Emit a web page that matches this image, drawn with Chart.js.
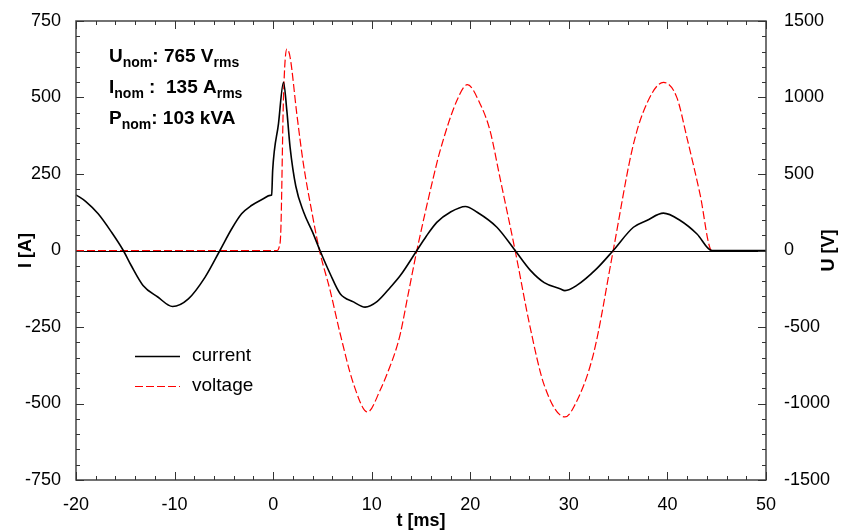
<!DOCTYPE html>
<html>
<head>
<meta charset="utf-8">
<script src="https://cdn.jsdelivr.net/npm/chart.js@4/dist/chart.umd.min.js"></script>
<style>
  html, body { margin: 0; padding: 0; background: #fff; }
  canvas { display: block; }
</style>
</head>
<body>
<canvas id="chart" width="841" height="532"></canvas>
<script>
// current [A] vs time [ms]
const currentTime = [-20, -19, -17.75, -16.4, -15.2, -14.4, -13.2, -11.7, -10.2, -8.6, -6.9, -5.4, -4.2, -3.2, -2.2, -1.0, -0.3, -0.15, -0.05, 0.54, 1.05, 1.39, 1.72, 2.3, 3.1, 4.0, 4.75, 5.78, 6.8, 8.15, 9.33, 10.5, 11.9, 12.9, 14.58, 15.5, 16.6, 17.96, 19.5, 20.7, 22.7, 24.55, 26.1, 27.5, 29.1, 29.6, 30.8, 32.8, 34.5, 36.55, 37.9, 39.6, 41.3, 43.0, 44.5, 50];
const currentValues = [182, 160, 120, 60, 0, -49, -114, -152, -183, -158, -87, 0, 71, 120, 147, 169, 180, 181, 261, 414, 550, 457, 337, 210, 125, 60, 0, -76, -141, -168, -185, -168, -120, -82, 0, 45, 92, 125, 144, 125, 76, 0, -65, -105, -125, -131, -114, -60, 0, 76, 98, 122, 98, 54, 0, 0];

// voltage [V] vs time [ms]
const voltageTime = [-20, 0.4, 0.6, 0.78, 1.05, 1.39, 1.72, 2.4, 3.07, 3.9, 4.7, 5.78, 6.8, 8.15, 9.57, 10.85, 11.87, 12.4, 12.9, 13.7, 14.58, 16.26, 16.94, 18.64, 19.7, 21.0, 22.0, 23.0, 24.55, 26.07, 27.5, 29.6, 30.5, 32.5, 34.5, 36.4, 37.6, 39.6, 40.95, 41.97, 43.3, 44.5, 50];
const voltageValues = [0, 0, 20, 131, 1001, 1317, 1263, 893, 566, 261, 0, -261, -544, -871, -1056, -914, -755, -660, -545, -285, 0, 479, 653, 980, 1084, 958, 784, 479, 0, -501, -880, -1088, -1023, -675, 0, 653, 914, 1099, 1001, 740, 370, 0, 0];

const timeTicks = [-20, -10, 0, 10, 20, 30, 40, 50];
const currentTicks = [-750, -500, -250, 0, 250, 500, 750];
const voltageTicks = [-1500, -1000, -500, 0, 500, 1000, 1500];

const ratings = [
  ['U', 'nom', ': 765 V', 'rms'],
  ['I', 'nom', ' :  135 A', 'rms'],
  ['P', 'nom', ': 103 kVA', '']
];
const seriesNames = ['current', 'voltage'];

const FONT = "'Liberation Sans', Arial, sans-serif";

function toPoints(xs, ys) {
  return xs.map((x, i) => ({ x: x, y: ys[i] }));
}

const decor = {
  id: 'decor',
  beforeDatasetsDraw(chart) {
    const { ctx, chartArea: a, scales } = chart;
    const y0 = Math.round(scales.y.getPixelForValue(0)) + 0.5;
    ctx.save();
    ctx.setLineDash([]);
    ctx.strokeStyle = '#000';
    ctx.lineWidth = 1;
    ctx.beginPath();
    ctx.moveTo(a.left, y0);
    ctx.lineTo(a.right, y0);
    ctx.stroke();
    ctx.restore();
  },
  afterDraw(chart) {
    const { ctx, chartArea: a, scales } = chart;
    const left = Math.round(a.left), right = Math.round(a.right);
    const top = Math.round(a.top), bottom = Math.round(a.bottom);
    ctx.save();
    ctx.globalAlpha = 1;
    ctx.setLineDash([]);
    ctx.strokeStyle = '#444';
    ctx.lineWidth = 1.5;
    ctx.beginPath();
    ctx.moveTo(left, top); ctx.lineTo(right, top);
    ctx.lineTo(right, bottom); ctx.lineTo(left, bottom);
    ctx.closePath();
    ctx.stroke();

    // inward ticks
    ctx.lineWidth = 1;
    ctx.strokeStyle = '#333';
    ctx.beginPath();
    for (let v = -20; v <= 50; v += 2) {
      const px = Math.round(scales.x.getPixelForValue(v)) + 0.5;
      const len = v % 10 === 0 ? 8 : 4;
      ctx.moveTo(px, bottom); ctx.lineTo(px, bottom - len);
      ctx.moveTo(px, top); ctx.lineTo(px, top + len);
    }
    for (let v = -750; v <= 750; v += 50) {
      const py = Math.round(scales.y.getPixelForValue(v)) + 0.5;
      const len = v % 250 === 0 ? 8 : 4;
      ctx.moveTo(left, py); ctx.lineTo(left + len, py);
    }
    for (let v = -1500; v <= 1500; v += 100) {
      const py = Math.round(scales.y1.getPixelForValue(v)) + 0.5;
      const len = v % 500 === 0 ? 8 : 4;
      ctx.moveTo(right, py); ctx.lineTo(right - len, py);
    }
    ctx.stroke();

    // axis titles
    ctx.fillStyle = '#000';
    ctx.font = 'bold 18px ' + FONT;
    ctx.textAlign = 'center';
    ctx.textBaseline = 'middle';
    ctx.fillText('t [ms]', (a.left + a.right) / 2, 521);
    ctx.save();
    ctx.translate(26, (a.top + a.bottom) / 2);
    ctx.rotate(-Math.PI / 2);
    ctx.fillText('I [A]', 0, 0);
    ctx.restore();
    ctx.save();
    ctx.translate(829, (a.top + a.bottom) / 2);
    ctx.rotate(-Math.PI / 2);
    ctx.fillText('U [V]', 0, 0);
    ctx.restore();

    // nominal ratings
    ctx.textAlign = 'left';
    ctx.textBaseline = 'alphabetic';
    ratings.forEach((r, i) => {
      let x = 109;
      const y = 62 + i * 31;
      r.forEach((part, j) => {
        if (!part) return;
        const sub = j % 2 === 1;
        ctx.font = 'bold ' + (sub ? 14 : 19) + 'px ' + FONT;
        ctx.fillText(part, x, sub ? y + 5 : y);
        x += ctx.measureText(part).width;
      });
    });

    // legend
    ctx.font = '19px ' + FONT;
    ctx.textBaseline = 'middle';
    chart.data.datasets.forEach((ds, i) => {
      const y = 356.5 + i * 30;
      ctx.strokeStyle = ds.borderColor;
      ctx.lineWidth = ds.borderWidth;
      ctx.setLineDash(ds.borderDash || []);
      ctx.beginPath();
      ctx.moveTo(135, y);
      ctx.lineTo(180, y);
      ctx.stroke();
      ctx.fillText(seriesNames[i], 192, y - 1);
    });
    ctx.restore();
  }
};

const tickFont = { family: FONT, size: 18 };

new Chart(document.getElementById('chart'), {
  type: 'line',
  data: {
    datasets: [
      {
        label: seriesNames[0],
        data: toPoints(currentTime, currentValues),
        yAxisID: 'y',
        borderColor: '#000000',
        borderWidth: 1.6,
        pointRadius: 0,
        cubicInterpolationMode: 'monotone',
        fill: false
      },
      {
        label: seriesNames[1],
        data: toPoints(voltageTime, voltageValues),
        yAxisID: 'y1',
        borderColor: '#ff0000',
        borderWidth: 1.2,
        borderDash: [8, 3],
        pointRadius: 0,
        cubicInterpolationMode: 'monotone',
        fill: false
      }
    ]
  },
  options: {
    responsive: false,
    devicePixelRatio: 1,
    animation: false,
    layout: { padding: { top: 21, left: 0, right: 0, bottom: 0 } },
    plugins: { legend: { display: false }, tooltip: { enabled: false } },
    scales: {
      x: {
        type: 'linear',
        min: -20, max: 50,
        afterBuildTicks: s => { s.ticks = timeTicks.map(v => ({ value: v })); },
        afterFit: s => { s.height = 52; },
        grid: { display: false },
        border: { display: false },
        ticks: { color: '#000', font: tickFont, padding: 6, maxRotation: 0, callback: v => String(v) }
      },
      y: {
        type: 'linear',
        position: 'left',
        min: -750, max: 750,
        afterBuildTicks: s => { s.ticks = currentTicks.map(v => ({ value: v })); },
        afterFit: s => { s.width = 76; },
        grid: { display: false },
        border: { display: false },
        ticks: { color: '#000', font: tickFont, padding: 7, callback: v => String(v) }
      },
      y1: {
        type: 'linear',
        position: 'right',
        min: -1500, max: 1500,
        afterBuildTicks: s => { s.ticks = voltageTicks.map(v => ({ value: v })); },
        afterFit: s => { s.width = 75; },
        grid: { display: false },
        border: { display: false },
        ticks: { color: '#000', font: tickFont, padding: 10, callback: v => String(v) }
      }
    }
  },
  plugins: [decor]
});
</script>
</body>
</html>
